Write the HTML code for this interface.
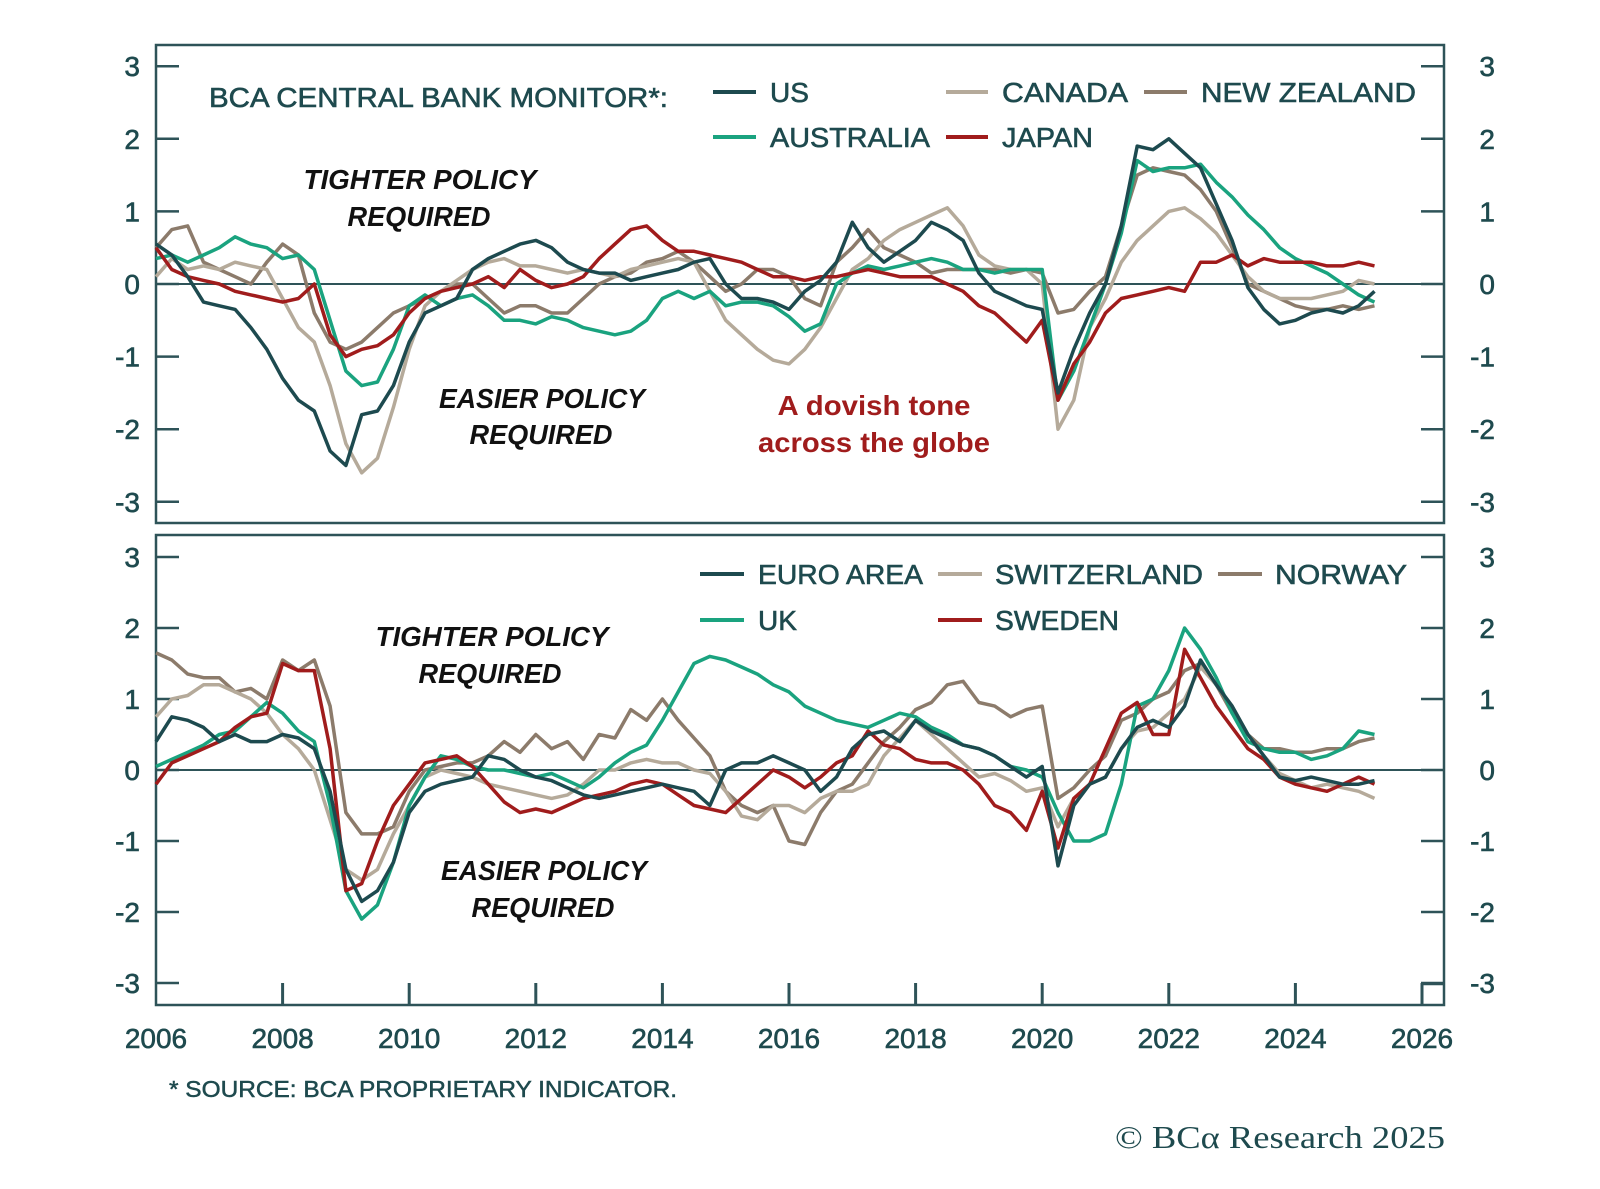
<!DOCTYPE html>
<html><head><meta charset="utf-8"><style>
html,body{margin:0;padding:0;background:#fff;}
svg{display:block;font-family:"Liberation Sans",sans-serif;}
</style></head><body>
<svg id="chart" width="1600" height="1189" viewBox="0 0 1600 1189" xmlns="http://www.w3.org/2000/svg">
<rect x="0" y="0" width="1600" height="1189" fill="#fff"/>
<g id="top"></g>
<g id="bot"></g>
<g id="xaxis"></g>
<g font-size="28" fill="#1e4a4e" stroke="#1e4a4e" stroke-width="0.6">
 <text x="209" y="107" textLength="459" lengthAdjust="spacingAndGlyphs">BCA CENTRAL BANK MONITOR*:</text>
 <line x1="713" y1="92" x2="756" y2="92" stroke="#1d4a4f" stroke-width="4"/><text x="770" y="102">US</text>
 <line x1="946" y1="92" x2="988" y2="92" stroke="#b5aa9a" stroke-width="4"/><text x="1002" y="102" textLength="126" lengthAdjust="spacingAndGlyphs">CANADA</text>
 <line x1="1144" y1="92" x2="1187" y2="92" stroke="#8c7b6b" stroke-width="4"/><text x="1201" y="102" textLength="215" lengthAdjust="spacingAndGlyphs">NEW ZEALAND</text>
 <line x1="713" y1="137" x2="756" y2="137" stroke="#1aa37f" stroke-width="4"/><text x="770" y="147" textLength="160" lengthAdjust="spacingAndGlyphs">AUSTRALIA</text>
 <line x1="946" y1="137" x2="988" y2="137" stroke="#a01c1c" stroke-width="4"/><text x="1002" y="147" textLength="91" lengthAdjust="spacingAndGlyphs">JAPAN</text>
</g>
<g font-size="28" fill="#1e4a4e" stroke="#1e4a4e" stroke-width="0.6">
 <line x1="700" y1="574" x2="744" y2="574" stroke="#1d4a4f" stroke-width="4"/><text x="758" y="584" textLength="165" lengthAdjust="spacingAndGlyphs">EURO AREA</text>
 <line x1="938" y1="574" x2="982" y2="574" stroke="#b5aa9a" stroke-width="4"/><text x="995" y="584" textLength="208" lengthAdjust="spacingAndGlyphs">SWITZERLAND</text>
 <line x1="1218" y1="574" x2="1262" y2="574" stroke="#8c7b6b" stroke-width="4"/><text x="1275" y="584" textLength="132" lengthAdjust="spacingAndGlyphs">NORWAY</text>
 <line x1="700" y1="620" x2="744" y2="620" stroke="#1aa37f" stroke-width="4"/><text x="758" y="630">UK</text>
 <line x1="938" y1="620" x2="982" y2="620" stroke="#a01c1c" stroke-width="4"/><text x="995" y="630" textLength="124" lengthAdjust="spacingAndGlyphs">SWEDEN</text>
</g>
<g font-size="28" font-weight="bold" font-style="italic" fill="#111" text-anchor="middle">
 <text x="420" y="189" textLength="233" lengthAdjust="spacingAndGlyphs">TIGHTER POLICY</text>
 <text x="419" y="226" textLength="143" lengthAdjust="spacingAndGlyphs">REQUIRED</text>
 <text x="542" y="408" textLength="206" lengthAdjust="spacingAndGlyphs">EASIER POLICY</text>
 <text x="541" y="444" textLength="143" lengthAdjust="spacingAndGlyphs">REQUIRED</text>
 <text x="492" y="646" textLength="233" lengthAdjust="spacingAndGlyphs">TIGHTER POLICY</text>
 <text x="490" y="683" textLength="143" lengthAdjust="spacingAndGlyphs">REQUIRED</text>
 <text x="544" y="880" textLength="206" lengthAdjust="spacingAndGlyphs">EASIER POLICY</text>
 <text x="543" y="917" textLength="143" lengthAdjust="spacingAndGlyphs">REQUIRED</text>
</g>
<g font-size="28" font-weight="bold" fill="#a01c1c" text-anchor="middle">
 <text x="874" y="415" textLength="193" lengthAdjust="spacingAndGlyphs">A dovish tone</text>
 <text x="874" y="452" textLength="232" lengthAdjust="spacingAndGlyphs">across the globe</text>
</g>
<text x="169" y="1097" font-size="23" fill="#1e4a4e" stroke="#1e4a4e" stroke-width="0.5" textLength="508" lengthAdjust="spacingAndGlyphs">* SOURCE: BCA PROPRIETARY INDICATOR.</text>
<text x="1445" y="1148" font-size="32" font-family="Liberation Serif, serif" fill="#1e4a4e" text-anchor="end" textLength="330" lengthAdjust="spacingAndGlyphs">© BCα Research 2025</text>
</svg>
<script>
const years = [];
for (let i = 0; i < 78; i++) years.push(2006 + i * 0.25);
const xTicks = [2006,2008,2010,2012,2014,2016,2018,2020,2022,2024,2026];
const yTicks = [3,2,1,0,-1,-2,-3];

const usVals = [0.55,0.4,0.1,-0.25, -0.3,-0.35,-0.6,-0.9, -1.3,-1.6,-1.75,-2.3, -2.5,-1.8,-1.75,-1.4, -0.8,-0.4,-0.3,-0.2, 0.2,0.35,0.45,0.55, 0.6,0.5,0.3,0.2, 0.15,0.15,0.05,0.1, 0.15,0.2,0.3,0.35, 0.0,-0.2,-0.2,-0.25, -0.35,-0.1,0.05,0.3, 0.85,0.5,0.3,0.45, 0.6,0.85,0.75,0.6, 0.15,-0.1,-0.2,-0.3, -0.35,-1.5,-0.9,-0.4, 0.0,0.8,1.9,1.85, 2.0,1.8,1.6,1.1, 0.6,-0.05,-0.35,-0.55, -0.5,-0.4,-0.35,-0.4, -0.3,-0.1];
const australiaVals = [0.35,0.4,0.3,0.4, 0.5,0.65,0.55,0.5, 0.35,0.4,0.2,-0.5, -1.2,-1.4,-1.35,-0.9, -0.3,-0.15,-0.3,-0.2, -0.15,-0.3,-0.5,-0.5, -0.55,-0.45,-0.5,-0.6, -0.65,-0.7,-0.65,-0.5, -0.2,-0.1,-0.2,-0.1, -0.3,-0.25,-0.25,-0.3, -0.45,-0.65,-0.55,0.0, 0.15,0.25,0.2,0.25, 0.3,0.35,0.3,0.2, 0.2,0.15,0.2,0.2, 0.2,-1.6,-1.2,-0.6, 0.0,0.7,1.7,1.55, 1.6,1.6,1.65,1.4, 1.2,0.95,0.75,0.5, 0.35,0.25,0.15,0.0, -0.15,-0.25];
const canadaVals = [0.1,0.35,0.2,0.25, 0.2,0.3,0.25,0.2, -0.2,-0.6,-0.8,-1.4, -2.2,-2.6,-2.4,-1.7, -0.9,-0.3,-0.1,0.05, 0.2,0.3,0.35,0.25, 0.25,0.2,0.15,0.2, 0.15,0.1,0.2,0.25, 0.3,0.35,0.3,-0.1, -0.5,-0.7,-0.9,-1.05, -1.1,-0.9,-0.6,-0.2, 0.2,0.35,0.6,0.75, 0.85,0.95,1.05,0.8, 0.4,0.25,0.2,0.2, 0.0,-2.0,-1.6,-0.6, -0.2,0.3,0.6,0.8, 1.0,1.05,0.9,0.7, 0.4,0.1,-0.1,-0.2, -0.2,-0.2,-0.15,-0.1, 0.05,0.0];
const nzVals = [0.5,0.75,0.8,0.3, 0.2,0.1,0.0,0.3, 0.55,0.4,-0.4,-0.8, -0.9,-0.8,-0.6,-0.4, -0.3,-0.2,-0.1,0.0, 0.0,-0.2,-0.4,-0.3, -0.3,-0.4,-0.4,-0.2, 0.0,0.1,0.15,0.3, 0.35,0.45,0.3,0.1, -0.1,0.0,0.2,0.2, 0.1,-0.2,-0.3,0.3, 0.5,0.75,0.5,0.4, 0.3,0.15,0.2,0.2, 0.2,0.2,0.15,0.2, 0.15,-0.4,-0.35,-0.1, 0.1,0.8,1.5,1.6, 1.55,1.5,1.3,1.0, 0.5,0.0,-0.1,-0.2, -0.3,-0.35,-0.35,-0.3, -0.35,-0.3];
const japanVals = [0.5,0.2,0.1,0.05, 0.0,-0.1,-0.15,-0.2, -0.25,-0.2,0.0,-0.7, -1.0,-0.9,-0.85,-0.7, -0.4,-0.2,-0.1,-0.05, 0.0,0.1,-0.05,0.2, 0.05,-0.05,0.0,0.1, 0.35,0.55,0.75,0.8, 0.6,0.45,0.45,0.4, 0.35,0.3,0.2,0.1, 0.1,0.05,0.1,0.1, 0.15,0.2,0.15,0.1, 0.1,0.1,0.0,-0.1, -0.3,-0.4,-0.6,-0.8, -0.5,-1.6,-1.1,-0.8, -0.4,-0.2,-0.15,-0.1, -0.05,-0.1,0.3,0.3, 0.4,0.25,0.35,0.3, 0.3,0.3,0.25,0.25, 0.3,0.25];

const euroVals = [0.4,0.75,0.7,0.6, 0.4,0.5,0.4,0.4, 0.5,0.45,0.3,-0.3, -1.4,-1.85,-1.7,-1.3, -0.6,-0.3,-0.2,-0.15, -0.1,0.2,0.15,0.0, -0.1,-0.15,-0.25,-0.35, -0.4,-0.35,-0.3,-0.25, -0.2,-0.25,-0.3,-0.5, 0.0,0.1,0.1,0.2, 0.1,0.0,-0.3,-0.1, 0.3,0.5,0.55,0.4, 0.7,0.55,0.45,0.35, 0.3,0.2,0.05,-0.1, 0.05,-1.35,-0.5,-0.2, -0.1,0.3,0.6,0.7, 0.6,0.9,1.55,1.2, 0.9,0.5,0.2,-0.1, -0.15,-0.1,-0.15,-0.2, -0.2,-0.15];
const ukVals = [0.05,0.15,0.25,0.35, 0.5,0.55,0.75,0.95, 0.8,0.55,0.4,-0.5, -1.7,-2.1,-1.9,-1.3, -0.5,-0.1,0.2,0.15, 0.05,0.0,0.0,-0.05, -0.1,-0.05,-0.15,-0.25, -0.1,0.1,0.25,0.35, 0.7,1.1,1.5,1.6, 1.55,1.45,1.35,1.2, 1.1,0.9,0.8,0.7, 0.65,0.6,0.7,0.8, 0.75,0.6,0.5,0.35, 0.3,0.2,0.05,0.0, -0.1,-0.6,-1.0,-1.0, -0.9,-0.2,0.9,1.0, 1.4,2.0,1.7,1.3, 0.8,0.4,0.3,0.25, 0.25,0.15,0.2,0.3, 0.55,0.5];
const swissVals = [0.75,1.0,1.05,1.2, 1.2,1.1,1.0,0.8, 0.5,0.3,0.0,-0.7, -1.4,-1.55,-1.4,-0.9, -0.5,-0.1,0.0,-0.05, -0.1,-0.2,-0.25,-0.3, -0.35,-0.4,-0.35,-0.2, 0.0,0.0,0.1,0.15, 0.1,0.1,0.0,-0.05, -0.3,-0.65,-0.7,-0.5, -0.5,-0.6,-0.4,-0.3, -0.3,-0.2,0.2,0.45, 0.7,0.5,0.3,0.1, -0.1,-0.05,-0.15,-0.3, -0.25,-0.8,-0.4,-0.2, -0.1,0.3,0.55,0.6, 0.8,1.0,1.45,1.2, 0.9,0.5,0.2,-0.05, -0.15,-0.25,-0.2,-0.25, -0.3,-0.4];
const norwayVals = [1.65,1.55,1.35,1.3, 1.3,1.1,1.15,1.0, 1.55,1.4,1.55,0.9, -0.6,-0.9,-0.9,-0.8, -0.3,0.0,0.05,0.1, 0.1,0.2,0.4,0.25, 0.5,0.3,0.4,0.15, 0.5,0.45,0.85,0.7, 1.0,0.7,0.45,0.2, -0.3,-0.5,-0.6,-0.5, -1.0,-1.05,-0.6,-0.3, -0.2,0.1,0.4,0.6, 0.85,0.95,1.2,1.25, 0.95,0.9,0.75,0.85, 0.9,-0.4,-0.25,0.0, 0.2,0.7,0.8,1.0, 1.1,1.4,1.5,1.2, 0.8,0.5,0.3,0.3, 0.25,0.25,0.3,0.3, 0.4,0.45];
const swedenVals = [-0.2,0.1,0.2,0.3, 0.4,0.6,0.75,0.8, 1.5,1.4,1.4,0.3, -1.7,-1.6,-1.0,-0.5, -0.2,0.1,0.15,0.2, 0.05,-0.2,-0.45,-0.6, -0.55,-0.6,-0.5,-0.4, -0.35,-0.3,-0.2,-0.15, -0.2,-0.35,-0.5,-0.55, -0.6,-0.4,-0.2,0.0, -0.1,-0.25,-0.1,0.1, 0.2,0.55,0.35,0.3, 0.15,0.1,0.1,0.0, -0.2,-0.5,-0.6,-0.85, -0.3,-1.1,-0.4,-0.2, 0.3,0.8,0.95,0.5, 0.5,1.7,1.3,0.9, 0.6,0.3,0.15,-0.1, -0.2,-0.25,-0.3,-0.2, -0.1,-0.2];

const NS = 'http://www.w3.org/2000/svg';
const AX = '#2e5358';
const X0 = 156, X1 = 1422, BOXR = 1444;
function xScale(v){ return X0 + (v - 2006) / 20 * (X1 - X0); }
function mk(tag, attrs, parent){ const e = document.createElementNS(NS, tag); for (const k in attrs) e.setAttribute(k, attrs[k]); parent.appendChild(e); return e; }

function panel(g, top, bottom, zeroY, unit, series){
  const yScale = v => zeroY - v * unit;
  const box = mk('rect', {x:X0, y:top, width:BOXR-X0, height:bottom-top, fill:'none', stroke:AX, 'stroke-width':2.5}, g);
  
  
  yTicks.forEach(t => {
    const y = yScale(t);
    const tl = mk('line', {x1:X0, y1:y, x2:X0+23, y2:y, stroke:AX, 'stroke-width':2.5}, g);
    
    
    const tr = mk('line', {x1:BOXR-23, y1:y, x2:BOXR, y2:y, stroke:AX, 'stroke-width':2.5}, g);
    
    
    const l = mk('text', {x:140, y:y+10, 'font-size':28, fill:'#1e4a4e', stroke:'#1e4a4e', 'stroke-width':0.6, 'text-anchor':'end'}, g);
    l.textContent = String(t);
    
    
    const r = mk('text', {x:1495, y:y+10, 'font-size':28, fill:'#1e4a4e', stroke:'#1e4a4e', 'stroke-width':0.6, 'text-anchor':'end'}, g);
    r.textContent = String(t);
    
    
  });
  const z = mk('line', {x1:X0, y1:zeroY, x2:BOXR, y2:zeroY, stroke:AX, 'stroke-width':2}, g);
  
  
  series.forEach(s => {
    const d = s.vals.map((v,i) => (i ? 'L' : 'M') + xScale(years[i]).toFixed(1) + ',' + yScale(v).toFixed(1)).join(' ');
    const p = mk('path', {d:d, fill:'none', stroke:s.color, 'stroke-width':3.5, 'stroke-linejoin':'round'}, g);
    
    
  });
}

panel(document.getElementById('top'), 45, 523, 284, 72.6, [
  {name:'line-new-zealand', color:'#8c7b6b', vals:nzVals},
  {name:'line-canada', color:'#b5aa9a', vals:canadaVals},
  {name:'line-australia', color:'#1aa37f', vals:australiaVals},
  {name:'line-japan', color:'#a01c1c', vals:japanVals},
  {name:'line-us', color:'#1d4a4f', vals:usVals}
]);
panel(document.getElementById('bot'), 535, 1005, 770, 71, [
  {name:'line-norway', color:'#8c7b6b', vals:norwayVals},
  {name:'line-switzerland', color:'#b5aa9a', vals:swissVals},
  {name:'line-uk', color:'#1aa37f', vals:ukVals},
  {name:'line-sweden', color:'#a01c1c', vals:swedenVals},
  {name:'line-euro-area', color:'#1d4a4f', vals:euroVals}
]);

const xg = document.getElementById('xaxis');
xTicks.forEach(t => {
  const x = xScale(t);
  if (t !== 2006) {
    const tk = mk('line', {x1:x, y1:983, x2:x, y2:1005, stroke:AX, 'stroke-width':3}, xg);
    
    
  }
  const l = mk('text', {x:x, y:1048, 'font-size':28, fill:'#1e4a4e', stroke:'#1e4a4e', 'stroke-width':0.6, 'text-anchor':'middle'}, xg);
  l.textContent = String(t);
  
  
});
const br = mk('line', {x1:xScale(2026), y1:984, x2:BOXR, y2:984, stroke:AX, 'stroke-width':2.5}, xg);


</script>
</body></html>
